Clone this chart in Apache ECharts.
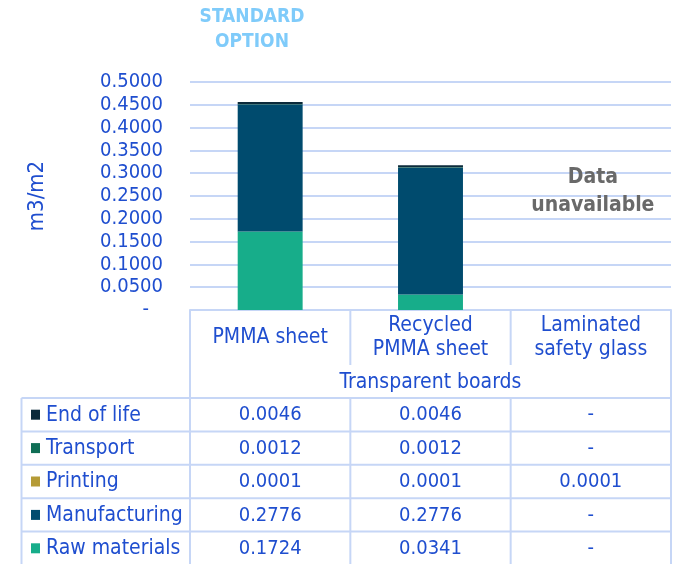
<!DOCTYPE html>
<html>
<head>
<meta charset="utf-8">
<script src="https://cdn.jsdelivr.net/npm/echarts@6/dist/echarts.min.js"></script>
<style>
  html, body { margin: 0; padding: 0; background: #ffffff; }
  #chart { width: 673px; height: 564px; }
</style>
</head>
<body>
<div id="chart"></div>
<script>
// Water use per square metre of transparent board, by life-cycle stage
const categories = ['PMMA sheet', 'Recycled\nPMMA sheet', 'Laminated\nsafety glass'];
const groupLabel = 'Transparent boards';

const rawMaterials  = [0.1724, 0.0341, null];
const manufacturing = [0.2776, 0.2776, null];
const printing      = [0.0001, 0.0001, 0.0001];
const transport     = [0.0012, 0.0012, null];
const endOfLife     = [0.0046, 0.0046, null];

const yTicks = [0, 0.05, 0.1, 0.15, 0.2, 0.25, 0.3, 0.35, 0.4, 0.45, 0.5];

// stacking order, bottom to top
const stages = [
  { name: 'Raw materials', data: rawMaterials,  color: '#17ad8a' },
  { name: 'Manufacturing', data: manufacturing, color: '#004b6e' },
  { name: 'Printing',      data: printing,      color: '#b59b36' },
  { name: 'Transport',     data: transport,     color: '#0f6e55' },
  { name: 'End of life',   data: endOfLife,     color: '#0b2a3a' }
];

const FONT = '"DejaVu Sans Condensed", "DejaVu Sans", sans-serif';
const BLUE = '#1f4ecf';
const LINE = '#c6d6f6';

const chart = echarts.init(document.getElementById('chart'));

chart.setOption({
  animation: false,
  grid: { left: 190, right: 2, top: 82, bottom: 254, containLabel: false },
  xAxis: {
    type: 'category',
    data: categories,
    axisLine: { show: true, lineStyle: { color: LINE, width: 2 } },
    axisTick: { show: false },
    axisLabel: {
      interval: 0,
      margin: 28,
      verticalAlign: 'middle',
      lineHeight: 24,
      color: BLUE,
      fontFamily: FONT,
      fontSize: 21
    }
  },
  yAxis: {
    type: 'value',
    min: yTicks[0],
    max: yTicks[yTicks.length - 1],
    interval: yTicks[1] - yTicks[0],
    name: 'm3/m2',
    nameLocation: 'middle',
    nameGap: 142,
    nameRotate: 90,
    nameTextStyle: { color: BLUE, fontFamily: FONT, fontSize: 22 },
    axisLine: { show: false },
    axisTick: { show: false },
    splitLine: { show: true, lineStyle: { color: LINE, width: 2 } },
    axisLabel: {
      margin: 27,
      color: BLUE,
      fontFamily: FONT,
      fontSize: 20,
      formatter: v => (v === 0 ? '{z|-}' : v.toFixed(4)),
      rich: { z: { color: BLUE, fontFamily: FONT, fontSize: 20, padding: [0, 14, 0, 0] } }
    }
  },
  series: stages.map(s => ({
    name: s.name,
    type: 'bar',
    stack: 'total',
    barWidth: '40.5%',
    data: s.data,
    itemStyle: { color: s.color },
    emphasis: { disabled: true }
  }))
});

// Category header and data table underneath the plot
function buildTable() {
  const n = categories.length;
  const edges = [];
  for (let i = 0; i <= n; i++) {
    edges.push(i === n ? 671 : 190 + (481 / n) * i);
  }
  const centers = categories.map((c, i) => chart.convertToPixel({ xAxisIndex: 0 }, i));
  const leftEdge = 21.5;
  const headTop = 311, headDiv = 365, tableTop = 398, rowH = 33.4;

  const g = [];
  const line = (x1, y1, x2, y2) => g.push({
    type: 'line', silent: true,
    shape: { x1, y1, x2, y2 },
    style: { stroke: LINE, lineWidth: 2 }
  });
  const text = (t, x, y, opts) => g.push({
    type: 'text', silent: true,
    style: Object.assign({
      text: t, x, y, align: 'center', verticalAlign: 'middle',
      fill: BLUE, fontFamily: FONT, fontSize: 20
    }, opts || {})
  });

  // header block
  line(edges[0], headTop - 1, edges[0], tableTop);
  line(edges[n], headTop - 1, edges[n], tableTop);
  for (let i = 1; i < n; i++) line(edges[i], headTop, edges[i], headDiv);
  text(groupLabel, (edges[0] + edges[n]) / 2, 383, { fontSize: 21 });

  // data rows, top to bottom
  const rows = stages.slice().reverse();
  const bottom = tableTop + rowH * rows.length;
  for (let r = 0; r <= rows.length; r++) line(leftEdge, tableTop + r * rowH, edges[n], tableTop + r * rowH);
  line(leftEdge, tableTop, leftEdge, bottom);
  edges.forEach(x => line(x, tableTop, x, bottom));

  rows.forEach((s, r) => {
    const cy = tableTop + rowH * r + rowH / 2;
    g.push({
      type: 'rect', silent: true,
      shape: { x: 31, y: cy - 5, width: 9, height: 10 },
      style: { fill: s.color }
    });
    text(s.name, 46, cy + 0.5, { align: 'left', fontSize: 21 });
    s.data.forEach((v, i) => {
      text(v == null ? '-' : v.toFixed(4), centers[i], cy + 0.5);
    });
  });

  // annotations
  text('STANDARD\nOPTION', 252, 30, {
    fill: '#7fcbfa', fontWeight: 'bold', fontSize: 19, lineHeight: 25
  });
  text('Data\nunavailable', centers[2] + 2, 192, {
    fill: '#696969', fontWeight: 'bold', fontSize: 21, lineHeight: 28
  });

  chart.setOption({ graphic: g });
}
buildTable();
</script>
</body>
</html>
